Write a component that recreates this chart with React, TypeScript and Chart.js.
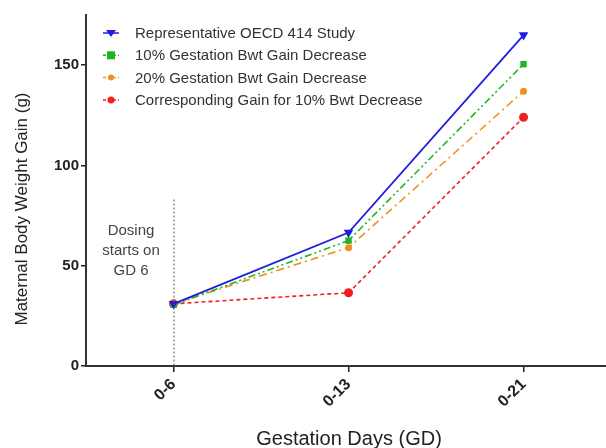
import React, { useEffect, useRef } from "react";
import { Chart, registerables } from "chart.js";

Chart.register(...registerables);

const categories = ["0-6", "0-13", "0-21"];
const seriesNames = [
  "Representative OECD 414 Study",
  "10% Gestation Bwt Gain Decrease",
  "20% Gestation Bwt Gain Decrease",
  "Corresponding Gain for 10% Bwt Decrease",
];
const oecd = [31, 66.5, 165];
const gain10 = [30.5, 62.5, 150.5];
const gain20 = [31, 59, 137];
const bwt10 = [31, 36.5, 124];
const yTicks = [0, 50, 100, 150];
const dosingLineTop = 83;
const dosingText = ["Dosing", "starts on", "GD 6"];
const xTitle = "Gestation Days (GD)";
const yTitle = "Maternal Body Weight Gain (g)";

const colors = ["#1e1ee0", "#1fb51f", "#f0901e", "#ee2020"];
const dashes = [[], [7, 3, 2, 3, 2, 3], [8, 4, 2, 4], [4, 3]];
const markers = ["triangle", "rect", "circle", "circle"];
const rotations = [180, 0, 0, 0];
const radii = [5.5, 4.5, 3.5, 4.5];

const FONT = "'Liberation Sans', Arial, sans-serif";

export default function App() {
  const ref = useRef<HTMLCanvasElement | null>(null);
  useEffect(() => {
    const ctx = ref.current!;
    const allSeries = [oecd, gain10, gain20, bwt10];
    const overlay = {
      id: "overlay",
      afterDatasetsDraw(chart: any) {
        const c = chart.ctx;
        const xs = chart.scales.x;
        const ys = chart.scales.y;
        // dosing line
        const x0 = xs.getPixelForValue(0);
        c.save();
        c.strokeStyle = "#555";
        c.lineWidth = 1;
        c.setLineDash([2, 2]);
        c.beginPath();
        c.moveTo(x0 + 0.5, ys.getPixelForValue(dosingLineTop));
        c.lineTo(x0 + 0.5, ys.getPixelForValue(0));
        c.stroke();
        c.setLineDash([]);
        c.fillStyle = "#444";
        c.font = `15px ${FONT}`;
        c.textAlign = "center";
        c.textBaseline = "middle";
        dosingText.forEach((t, i) => c.fillText(t, 131, 231 + i * 20));
        // axis titles
        c.fillStyle = "#222";
        c.font = `20px ${FONT}`;
        c.fillText(xTitle, 349, 439);
        c.save();
        c.translate(22, 209);
        c.rotate(-Math.PI / 2);
        c.font = `17px ${FONT}`;
        c.fillText(yTitle, 0, 0);
        c.restore();
        // legend
        c.font = `15px ${FONT}`;
        c.textAlign = "left";
        seriesNames.forEach((name, i) => {
          const y = 33 + i * 22.3;
          const mx = 111;
          c.strokeStyle = colors[i];
          c.lineWidth = 1.5;
          c.setLineDash(i === 0 ? [] : [3, 2]);
          c.beginPath();
          c.moveTo(103, y);
          c.lineTo(119, y);
          c.stroke();
          c.setLineDash([]);
          c.fillStyle = colors[i];
          c.beginPath();
          if (i === 0) {
            c.moveTo(mx - 5, y - 3);
            c.lineTo(mx + 5, y - 3);
            c.lineTo(mx, y + 4);
            c.closePath();
          } else if (i === 1) {
            c.rect(mx - 4, y - 4, 8, 8);
          } else if (i === 2) {
            c.arc(mx, y, 3, 0, Math.PI * 2);
          } else {
            c.arc(mx, y, 3.5, 0, Math.PI * 2);
          }
          c.fill();
          c.fillStyle = "#333";
          c.fillText(name, 135, y + 1);
        });
        c.restore();
      },
    };
    const chart = new Chart(ctx, {
      type: "line",
      data: {
        datasets: allSeries.map((s, i) => ({
          label: seriesNames[i],
          data: s.map((v, j) => ({ x: j, y: v })),
          borderColor: colors[i],
          backgroundColor: colors[i],
          borderWidth: i === 0 ? 1.8 : 1.6,
          borderDash: dashes[i],
          pointStyle: markers[i] as any,
          pointRotation: rotations[i],
          pointRadius: radii[i],
          pointBorderWidth: 0,
          fill: false,
          tension: 0,
          clip: false as any,
        })),
      },
      options: {
        responsive: false,
        animation: false,
        layout: { autoPadding: false, padding: { top: 15, right: 0, left: 0, bottom: 0 } },
        plugins: { legend: { display: false }, tooltip: { enabled: false } },
        scales: {
          x: {
            type: "linear",
            min: -0.5,
            max: 2.471,
            afterFit: (s: any) => {
              s.height = 82;
              s.paddingRight = 0;
              s.paddingLeft = 0;
            },
            afterBuildTicks: (s: any) => {
              s.ticks = categories.map((_, i) => ({ value: i }));
            },
            grid: {
              display: true,
              drawOnChartArea: false,
              drawTicks: true,
              tickLength: 6,
              color: "#222",
              lineWidth: 1.5,
            },
            border: { display: true, color: "#333", width: 2 },
            ticks: {
              autoSkip: false,
              maxRotation: 45,
              minRotation: 45,
              color: "#222",
              font: { family: FONT, size: 16, weight: "bold" },
              callback: (v: any) => categories[v] ?? "",
              padding: 3,
            },
            title: { display: false },
          },
          y: {
            min: 0,
            max: 175,
            afterFit: (s: any) => {
              s.width = 86;
            },
            afterBuildTicks: (s: any) => {
              s.ticks = yTicks.map((v) => ({ value: v }));
            },
            grid: {
              display: true,
              drawOnChartArea: false,
              drawTicks: true,
              tickLength: 5,
              color: "#222",
              lineWidth: 1.5,
            },
            border: { display: true, color: "#333", width: 2 },
            ticks: {
              color: "#222",
              font: { family: FONT, size: 15, weight: "bold" },
              padding: 2,
            },
            title: { display: false },
          },
        },
      },
      plugins: [overlay],
    });
    return () => chart.destroy();
  }, []);
  return (
    <div style={{ position: "fixed", left: 0, top: 0, width: 606, height: 448, background: "#fff" }}>
      <canvas ref={ref} width={606} height={448} style={{ display: "block" }} />
    </div>
  );
}
